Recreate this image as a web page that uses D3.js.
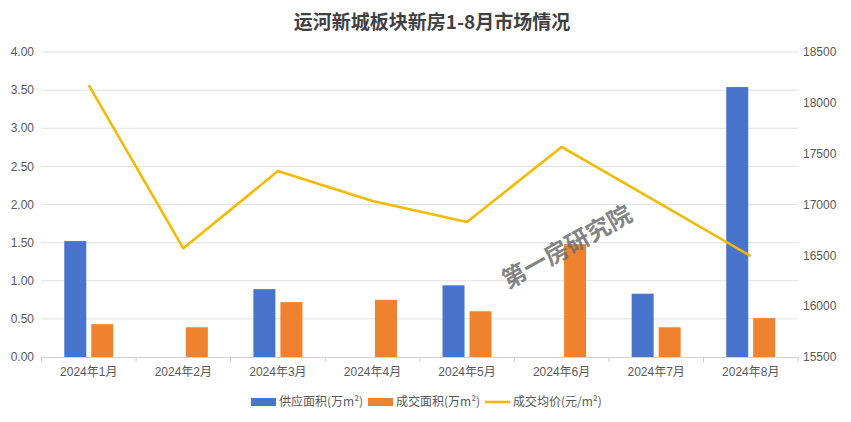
<!DOCTYPE html>
<html><head><meta charset="utf-8">
<script src="https://cdn.jsdelivr.net/npm/d3@7/dist/d3.min.js"></script>
<style>body{margin:0;background:#fff;}svg{display:block;font-family:"Liberation Sans","Noto Sans CJK SC",sans-serif;}</style>
</head><body><svg id="c" width="851" height="422"></svg>
<script>
const categories = ["2024年1月","2024年2月","2024年3月","2024年4月","2024年5月","2024年6月","2024年7月","2024年8月"];
const supplyArea = [1.52, 0, 0.89, 0, 0.94, 0, 0.83, 3.54];
const dealArea = [0.43, 0.39, 0.72, 0.75, 0.60, 1.48, 0.39, 0.51];
const avgPrice = [18175, 16569, 17329, 17034, 16828, 17566, 17030, 16493];
const leftTicks = [0, 0.5, 1, 1.5, 2, 2.5, 3, 3.5, 4];
const rightTicks = [15500, 16000, 16500, 17000, 17500, 18000, 18500];
const seriesNames = ["供应面积(万m²)", "成交面积(万m²)", "成交均价(元/m²)"];
const title = "运河新城板块新房1-8月市场情况";
const watermark = "第一房研究院";

const colors = ["#4874CB", "#EE822F", "#F2BA02"];
const svg = d3.select("#c");
const L = 41.5, R = 798, T = 52, B = 357;

const x = d3.scaleBand().domain(categories).range([L, R]);
const yL = d3.scaleLinear().domain([0, 4]).range([B, T]);
const yR = d3.scaleLinear().domain([15500, 18500]).range([B, T]);

// gridlines
svg.append("g").selectAll("line").data(leftTicks.slice(1)).join("line")
  .attr("x1", L).attr("x2", R).attr("y1", d => yL(d)).attr("y2", d => yL(d))
  .attr("stroke", "#e0e0e0").attr("stroke-width", 1);

// left axis labels
svg.append("g").selectAll("text").data(leftTicks).join("text")
  .attr("x", 34).attr("y", d => yL(d)).attr("dy", "0.35em").attr("text-anchor", "end")
  .attr("font-size", 12).attr("fill", "#595959").text(d => d.toFixed(2));
// right axis labels
svg.append("g").selectAll("text").data(rightTicks).join("text")
  .attr("x", 803).attr("y", d => yR(d)).attr("dy", "0.35em").attr("text-anchor", "start")
  .attr("font-size", 12).attr("fill", "#595959").text(d => d);

// x axis
const xAxis = d3.axisBottom(x).tickSize(0).tickPadding(10);
const gx = svg.append("g").attr("transform", `translate(0,${B})`).call(xAxis);
gx.select(".domain").attr("stroke", "#d0d0d0");
gx.selectAll("text").attr("font-size", 12).attr("fill", "#595959").attr("font-family", "Liberation Sans, Noto Sans CJK SC");
// category boundary ticks
svg.append("g").selectAll("line").data(d3.range(categories.length + 1)).join("line")
  .attr("x1", i => L + i * x.bandwidth()).attr("x2", i => L + i * x.bandwidth())
  .attr("y1", B).attr("y2", B + 5).attr("stroke", "#d0d0d0");

// bars
const bw = 22, gap = 5;
const cx = c => x(c) + x.bandwidth() / 2;
svg.append("g").selectAll("rect").data(categories.map((c, i) => ({c, v: supplyArea[i]})).filter(d => d.v > 0)).join("rect")
  .attr("x", d => cx(d.c) - gap / 2 - bw).attr("width", bw)
  .attr("y", d => yL(d.v)).attr("height", d => B - yL(d.v)).attr("fill", colors[0]);
svg.append("g").selectAll("rect").data(categories.map((c, i) => ({c, v: dealArea[i]}))).join("rect")
  .attr("x", d => cx(d.c) + gap / 2).attr("width", bw)
  .attr("y", d => yL(d.v)).attr("height", d => B - yL(d.v)).attr("fill", colors[1]);

// line
const line = d3.line().x((d, i) => cx(categories[i])).y(d => yR(d));
svg.append("path").datum(avgPrice).attr("d", line).attr("fill", "none")
  .attr("stroke", colors[2]).attr("stroke-width", 2.6).attr("stroke-linejoin", "round");

// title
svg.append("text").attr("x", 432).attr("y", 29).attr("text-anchor", "middle")
  .attr("font-size", 19).attr("font-weight", "bold").attr("fill", "#404040")
  .attr("font-family", "Noto Sans CJK SC").text(title);

// watermark
svg.append("text").attr("transform", "translate(567,247) rotate(-29)").attr("text-anchor", "middle")
  .attr("font-size", 24).attr("font-weight", "bold").attr("fill", "#6e6e6e").attr("fill-opacity", 0.85)
  .attr("font-family", "Noto Sans CJK SC").attr("dy", "0.35em").text(watermark);

// legend
const lg = svg.append("g").attr("font-size", 12).attr("fill", "#595959");
const items = [{x: 251, type: "rect"}, {x: 368, type: "rect"}, {x: 485, type: "line"}];
items.forEach((it, i) => {
  if (it.type === "rect") lg.append("rect").attr("x", it.x).attr("y", 398).attr("width", 25).attr("height", 8).attr("fill", colors[i]);
  else lg.append("line").attr("x1", it.x).attr("x2", it.x + 25).attr("y1", 402).attr("y2", 402).attr("stroke", colors[i]).attr("stroke-width", 2.6);
  lg.append("text").attr("x", it.x + 28).attr("y", 402).attr("dy", "0.35em").attr("fill", "#595959")
    .attr("font-family", "Noto Sans CJK SC").text(seriesNames[i]);
});
</script></body></html>
